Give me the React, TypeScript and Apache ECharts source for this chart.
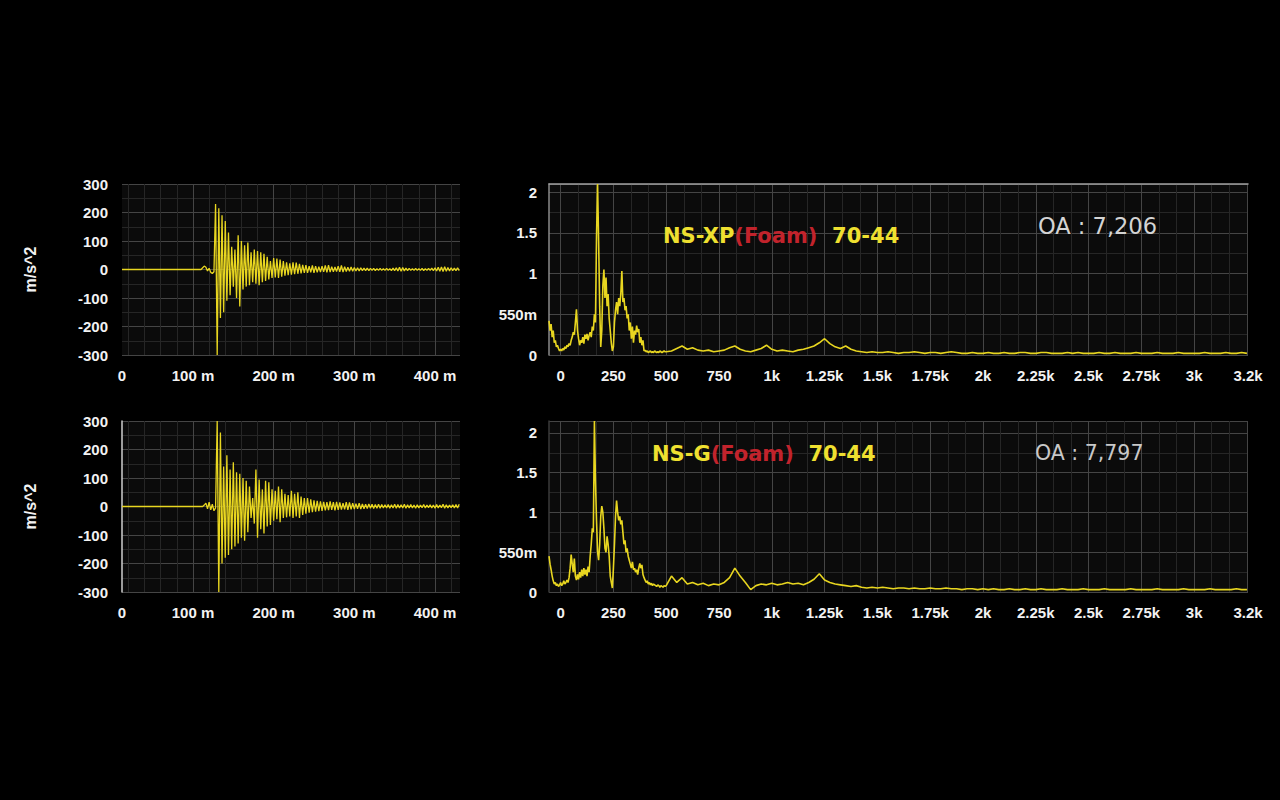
import React, { useEffect, useRef } from "react";
import * as echarts from "echarts";

// ---------- time waveform data (ms, m/s^2) ----------
const TIME_MIN = 12;
const TIME_MAX = 431;
const WAVE_T0 = 110;
const WAVE_DT = 2;
const TIME_LABEL_VALUES = [12, 100, 200, 300, 400];
const TIME_LABEL_TEXT = ["0", "100 m", "200 m", "300 m", "400 m"];
const TIME_MAJOR = [100, 200, 300, 400];

const xpWave = [
  0, 6, 12, 8, -5, 4, -10, -14, -8, 230,
  -300, 215, -170, 190, -150, 170, -110, 130, -90, 80,
  -60, 70, -100, 120, -130, 100, -70, 85, -60, 95,
  -55, 60, -45, 70, -50, 65, -55, 60, -45, 55,
  -40, 45, -35, 30, -30, 40, -28, 38, -30, 35,
  -25, 30, -22, 25, -20, 22, -18, 25, -16, 24,
  -15, 20, -14, 16, -12, 15, -12, 12, -10, 14,
  -12, 12, -10, 10, -9, 12, -8, 14, -10, 15,
  -9, 10, -8, 9, -7, 12, -8, 14, -9, 10,
  -7, 8, -6, 9, -6, 7, -5, 6, -5, 6,
  -4, 5, -4, 5, -4, 4, -3, 4, -4, 3,
  -3, 4, -3, 3, -3, 4, -3, 3, -4, 5,
  -4, 6, -5, 8, -6, 7, -5, 5, -4, 4,
  -3, 3, -3, 4, -3, 3, -3, 4, -4, 3,
  -3, 4, -3, 5, -4, 6, -5, 8, -6, 9,
  -7, 10, -6, 7, -5, 6, -4, 5, -4, 6,
  -4,
];

const gWave = [
  0, 0, 5, 12, -8, 15, -12, 8, -15, -5,
  300, -300, 260, -200, 140, -180, 180, -170, 130, -150,
  155, -140, 120, -130, 115, -110, 100, -120, 90, -90,
  70, -40, 30, -60, 130, -110, 95, -80, 60, -95,
  90, -70, 85, -65, 60, -50, 55, -45, 70, -55,
  60, -40, 45, -38, 40, -35, 55, -40, 45, -35,
  50, -40, 35, -30, 30, -25, 30, -22, 25, -20,
  22, -18, 20, -16, 18, -15, 16, -14, 15, -13,
  18, -12, 15, -14, 16, -12, 14, -11, 12, -10,
  15, -12, 14, -10, 12, -9, 10, -8, 12, -9,
  9, -8, 8, -7, 9, -6, 8, -7, 7, -6,
  8, -6, 7, -5, 6, -5, 7, -6, 6, -5,
  8, -6, 7, -5, 6, -5, 8, -6, 6, -5,
  7, -5, 5, -6, 6, -5, 5, -4, 7, -5,
  5, -4, 6, -5, 5, -6, 7, -5, 5, -4,
  8, -6, 6, -5, 5, -4, 6, -5, 7, -5,
  8,
];

// ---------- spectrum data (Hz, amplitude) ----------
const FFT_MIN = -55;
const FFT_MAX = 3255;
const FFT_LO_F0 = -55;
const FFT_LO_DF = 5;
const FFT_HI_F0 = 500;
const FFT_HI_DF = 25;
const FFT_LABEL_VALUES = [0, 250, 500, 750, 1000, 1250, 1500, 1750, 2000, 2250, 2500, 2750, 3000, 3255];
const FFT_LABEL_TEXT = ["0", "250", "500", "750", "1k", "1.25k", "1.5k", "1.75k", "2k", "2.25k", "2.5k", "2.75k", "3k", "3.2k"];
const FFT_MAJOR = [0, 250, 500, 750, 1000, 1250, 1500, 1750, 2000, 2250, 2500, 2750, 3000, 3250];
const FFT_Y_VALUES = [0, 0.5, 1, 1.5, 2];
const FFT_Y_TEXT = ["0", "550m", "1", "1.5", "2"];

const xpLow = [
  0.42, 0.30, 0.38, 0.22, 0.30, 0.15, 0.18, 0.10, 0.12, 0.08,
  0.05, 0.07, 0.05, 0.08, 0.06, 0.10, 0.08, 0.12, 0.10, 0.14,
  0.12, 0.18, 0.22, 0.28, 0.25, 0.40, 0.56, 0.30, 0.20, 0.12,
  0.18, 0.15, 0.22, 0.14, 0.25, 0.20, 0.26, 0.18, 0.24, 0.28,
  0.22, 0.35, 0.30, 0.50, 0.40, 1.45, 2.10, 1.40, 0.60, 0.10,
  0.30, 0.85, 1.05, 0.70, 0.95, 0.60, 0.75, 0.45, 0.30, 0.15,
  0.05, 0.10, 0.40, 0.55, 0.65, 0.50, 0.70, 0.60, 0.75, 1.03,
  0.65, 0.70, 0.55, 0.60, 0.45, 0.50, 0.30, 0.40, 0.20, 0.35,
  0.15, 0.30, 0.25, 0.36, 0.28, 0.32, 0.15, 0.22, 0.12, 0.18,
  0.05, 0.06, 0.04, 0.05, 0.03, 0.04, 0.05, 0.03, 0.04, 0.03,
  0.05, 0.04, 0.03, 0.04, 0.03, 0.05, 0.04, 0.03, 0.04, 0.05,
  0.04,
];

const xpHigh = [
  0.04, 0.05, 0.08, 0.11, 0.07, 0.09, 0.06, 0.05, 0.06, 0.04,
  0.05, 0.06, 0.09, 0.11, 0.07, 0.05, 0.04, 0.06, 0.08, 0.12,
  0.07, 0.05, 0.06, 0.05, 0.04, 0.06, 0.07, 0.09, 0.11, 0.15,
  0.20, 0.14, 0.10, 0.08, 0.11, 0.07, 0.05, 0.04, 0.03, 0.04,
  0.03, 0.03, 0.04, 0.03, 0.02, 0.03, 0.03, 0.04, 0.03, 0.02,
  0.03, 0.03, 0.02, 0.03, 0.04, 0.03, 0.02, 0.02, 0.03, 0.02,
  0.02, 0.03, 0.02, 0.02, 0.03, 0.02, 0.02, 0.03, 0.03, 0.02,
  0.02, 0.03, 0.03, 0.02, 0.02, 0.02, 0.03, 0.02, 0.03, 0.02,
  0.02, 0.02, 0.03, 0.02, 0.02, 0.03, 0.02, 0.02, 0.02, 0.03,
  0.02, 0.02, 0.02, 0.03, 0.02, 0.02, 0.02, 0.03, 0.02, 0.02,
  0.02, 0.02, 0.03, 0.02, 0.02, 0.02, 0.03, 0.02, 0.02, 0.03,
  0.02,
];

const gLow = [
  0.45, 0.35, 0.28, 0.20, 0.14, 0.10, 0.12, 0.08, 0.10, 0.07,
  0.09, 0.12, 0.08, 0.10, 0.14, 0.10, 0.12, 0.15, 0.12, 0.18,
  0.30, 0.47, 0.35, 0.25, 0.42, 0.20, 0.15, 0.22, 0.16, 0.25,
  0.18, 0.28, 0.20, 0.30, 0.22, 0.28, 0.20, 0.32, 0.25, 0.45,
  0.60, 0.80, 0.75, 2.15, 1.40, 0.90, 0.50, 0.40, 0.60, 0.95,
  1.08, 1.00, 0.80, 0.55, 0.50, 0.70, 0.60, 0.45, 0.20, 0.12,
  0.05, 0.30, 0.60, 0.95, 1.15, 1.00, 0.90, 0.95, 0.85, 0.90,
  0.75, 0.60, 0.65, 0.50, 0.55, 0.45, 0.40, 0.35, 0.30, 0.38,
  0.28, 0.30, 0.25, 0.28, 0.22, 0.30, 0.36, 0.30, 0.34, 0.22,
  0.18, 0.15, 0.12, 0.14, 0.10, 0.12, 0.09, 0.11, 0.08, 0.10,
  0.09, 0.08, 0.07, 0.09, 0.08, 0.06, 0.08, 0.07, 0.06, 0.08,
  0.07,
];

const gHigh = [
  0.08, 0.20, 0.12, 0.18, 0.10, 0.12, 0.09, 0.11, 0.08, 0.10,
  0.09, 0.12, 0.18, 0.30, 0.20, 0.12, 0.03, 0.08, 0.10, 0.09,
  0.11, 0.09, 0.10, 0.12, 0.10, 0.11, 0.09, 0.12, 0.16, 0.23,
  0.15, 0.12, 0.10, 0.09, 0.08, 0.07, 0.08, 0.06, 0.05, 0.06,
  0.05, 0.06, 0.05, 0.04, 0.05, 0.05, 0.04, 0.05, 0.04, 0.04,
  0.05, 0.04, 0.04, 0.05, 0.04, 0.04, 0.03, 0.04, 0.04, 0.03,
  0.04, 0.03, 0.04, 0.03, 0.03, 0.04, 0.03, 0.03, 0.04, 0.03,
  0.03, 0.04, 0.03, 0.03, 0.03, 0.04, 0.03, 0.03, 0.03, 0.04,
  0.03, 0.03, 0.03, 0.04, 0.03, 0.03, 0.03, 0.03, 0.04, 0.03,
  0.03, 0.03, 0.03, 0.04, 0.03, 0.03, 0.03, 0.03, 0.04, 0.03,
  0.03, 0.03, 0.03, 0.04, 0.03, 0.03, 0.03, 0.03, 0.04, 0.03,
  0.03,
];

// ---------- builders ----------
const waveData = (vals: number[]) => {
  const d: number[][] = [[TIME_MIN, 0]];
  vals.forEach((v, i) => d.push([WAVE_T0 + i * WAVE_DT, v]));
  return d;
};
const fftData = (lo: number[], hi: number[]) => {
  const d: number[][] = [];
  lo.forEach((v, i) => d.push([FFT_LO_F0 + i * FFT_LO_DF, v]));
  hi.forEach((v, i) => d.push([FFT_HI_F0 + i * FFT_HI_DF, v]));
  return d;
};

const TIME_MINOR: number[] = [];
for (let t = 20; t <= 420; t += 20) if (t % 100 !== 0) TIME_MINOR.push(t);
const FFT_MINOR: number[] = [];
for (let k = 0; k < 13; k++) {
  FFT_MINOR.push(k * 250 + 250 / 3, k * 250 + 500 / 3);
}

const MAJOR = "#454545";
const MINOR = "#262626";
const LABEL = {
  color: "#f2f2f2",
  fontSize: 15,
  fontWeight: "bold" as const,
  fontFamily: "Liberation Sans, Arial, sans-serif",
};
const YELLOW = "#e8d620";

const GRIDS = [
  { left: 122, top: 184, width: 338, height: 171 },
  { left: 549, top: 184, width: 699, height: 171 },
  { left: 122, top: 421, width: 338, height: 171 },
  { left: 549, top: 421, width: 699, height: 171 },
];

function labelAxis(grid: number, min: number, max: number, major: number[], values: number[], texts: string[]) {
  return {
    gridIndex: grid,
    type: "value",
    position: "bottom",
    min,
    max,
    axisLine: { show: false, onZero: false },
    axisTick: { show: false, customValues: major },
    axisLabel: {
      ...LABEL,
      margin: 13,
      customValues: values,
      formatter: (v: number) => {
        const i = values.indexOf(v);
        return i >= 0 ? texts[i] : "";
      },
    },
    splitLine: { show: true, lineStyle: { color: MAJOR, width: 1 } },
  };
}
function minorAxis(grid: number, min: number, max: number, minor: number[]) {
  return {
    gridIndex: grid,
    type: "value",
    position: "top",
    min,
    max,
    axisLine: { show: false, onZero: false },
    axisTick: { show: false, customValues: minor },
    axisLabel: { show: false },
    splitLine: { show: true, lineStyle: { color: MINOR, width: 1 } },
  };
}

const xAxis: any[] = [
  labelAxis(0, TIME_MIN, TIME_MAX, TIME_MAJOR, TIME_LABEL_VALUES, TIME_LABEL_TEXT), // 0
  minorAxis(0, TIME_MIN, TIME_MAX, TIME_MINOR), // 1
  labelAxis(1, FFT_MIN, FFT_MAX, FFT_MAJOR, FFT_LABEL_VALUES, FFT_LABEL_TEXT), // 2
  minorAxis(1, FFT_MIN, FFT_MAX, FFT_MINOR), // 3
  {
    gridIndex: 1,
    type: "value",
    position: "top",
    min: FFT_MIN,
    max: FFT_MAX,
    axisLine: { show: true, onZero: false, lineStyle: { color: "#a0a0a0", width: 1.5 } },
    axisTick: { show: false },
    axisLabel: { show: false },
    splitLine: { show: false },
  }, // 4
  labelAxis(2, TIME_MIN, TIME_MAX, TIME_MAJOR, TIME_LABEL_VALUES, TIME_LABEL_TEXT), // 5
  minorAxis(2, TIME_MIN, TIME_MAX, TIME_MINOR), // 6
  labelAxis(3, FFT_MIN, FFT_MAX, FFT_MAJOR, FFT_LABEL_VALUES, FFT_LABEL_TEXT), // 7
  minorAxis(3, FFT_MIN, FFT_MAX, FFT_MINOR), // 8
];

function timeY(grid: number, lineShow: boolean) {
  return {
    gridIndex: grid,
    type: "value",
    min: -300,
    max: 300,
    interval: 100,
    name: "m/s^2",
    nameLocation: "middle",
    nameGap: 84,
    nameRotate: 90,
    nameTextStyle: { color: "#f2f2f2", fontSize: 16, fontWeight: "bold", fontFamily: "Liberation Sans, Arial, sans-serif" },
    axisLine: { show: lineShow, onZero: false, lineStyle: { color: "#cfcfcf", width: 1.5 } },
    axisTick: { show: false },
    axisLabel: { ...LABEL, margin: 14 },
    splitLine: { show: true, lineStyle: { color: MAJOR } },
    minorTick: { show: false, splitNumber: 2 },
    minorSplitLine: { show: true, lineStyle: { color: MINOR } },
  };
}
function fftY(grid: number, max: number, lineColor: string) {
  return {
    gridIndex: grid,
    type: "value",
    min: 0,
    max,
    interval: 0.5,
    axisLine: { show: true, onZero: false, lineStyle: { color: lineColor, width: 1.5 } },
    axisTick: { show: false },
    axisLabel: {
      ...LABEL,
      margin: 12,
      formatter: (v: number) => {
        const i = FFT_Y_VALUES.findIndex((x) => Math.abs(x - v) < 1e-6);
        return i >= 0 ? FFT_Y_TEXT[i] : "";
      },
    },
    splitLine: { show: true, lineStyle: { color: MAJOR } },
    minorTick: { show: false, splitNumber: 2 },
    minorSplitLine: { show: true, lineStyle: { color: MINOR } },
  };
}

const yAxis: any[] = [timeY(0, false), fftY(1, 2.1, "#8a8a8a"), timeY(2, true), fftY(3, 2.15, "#3a3a3a")];

const lineSeries = (x: number, y: number, data: number[][], width: number) => ({
  type: "line",
  xAxisIndex: x,
  yAxisIndex: y,
  data,
  showSymbol: false,
  symbol: "none",
  lineStyle: { color: YELLOW, width },
  silent: true,
  z: 5,
});

const titleRich = {
  y: { fill: "#efe030", fontSize: 21, fontWeight: "bold", fontFamily: "DejaVu Sans, sans-serif" },
  r: { fill: "#c2232c", fontSize: 21, fontWeight: "bold", fontFamily: "DejaVu Sans, sans-serif" },
};

const option: any = {
  animation: false,
  backgroundColor: "#000000",
  grid: GRIDS.map((g) => ({ ...g, show: true, backgroundColor: "#0b0b0b", borderWidth: 0, containLabel: false })),
  xAxis,
  yAxis,
  series: [
    lineSeries(0, 0, waveData(xpWave), 1.3),
    lineSeries(2, 1, fftData(xpLow, xpHigh), 1.6),
    lineSeries(5, 2, waveData(gWave), 1.3),
    lineSeries(7, 3, fftData(gLow, gHigh), 1.6),
  ],
  graphic: [
    {
      type: "text",
      x: 663,
      y: 236,
      z: 10,
      style: { text: "{y|NS-XP}{r|(Foam)}{y|  70-44}", rich: titleRich, verticalAlign: "middle" },
    },
    {
      type: "text",
      x: 652,
      y: 454,
      z: 10,
      style: { text: "{y|NS-G}{r|(Foam)}{y|  70-44}", rich: titleRich, verticalAlign: "middle" },
    },
    {
      type: "text",
      x: 1038,
      y: 226,
      z: 10,
      style: {
        text: "OA : 7,206",
        fill: "#d4d4d4",
        fontSize: 22.5,
        fontFamily: "DejaVu Sans, sans-serif",
        verticalAlign: "middle",
      },
    },
    {
      type: "text",
      x: 1035,
      y: 453,
      z: 10,
      style: {
        text: "OA : 7,797",
        fill: "#c8c8c8",
        fontSize: 20.5,
        fontFamily: "DejaVu Sans, sans-serif",
        verticalAlign: "middle",
      },
    },
  ],
};

export default function App() {
  const ref = useRef<HTMLDivElement>(null);
  useEffect(() => {
    document.body.style.margin = "0";
    document.body.style.background = "#000";
    const chart = echarts.init(ref.current as HTMLDivElement, undefined, { renderer: "svg" });
    chart.setOption(option);
    return () => chart.dispose();
  }, []);
  return <div ref={ref} style={{ width: 1280, height: 800, background: "#000" }} />;
}
